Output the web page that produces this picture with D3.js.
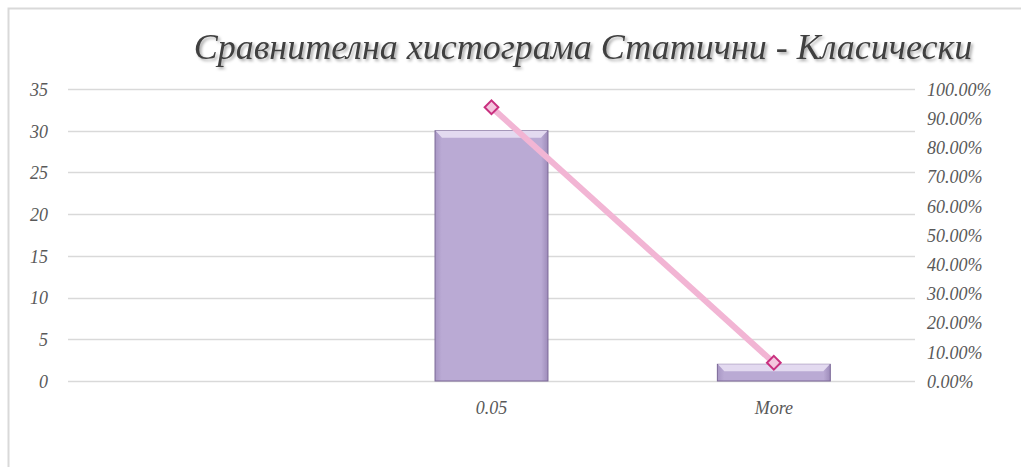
<!DOCTYPE html>
<html>
<head>
<meta charset="utf-8">
<script src="https://cdn.jsdelivr.net/npm/d3@7"></script>
<style>
  body { margin: 0; background: #fff; }
  .tick text { font-family: "Liberation Serif", "DejaVu Serif", serif; font-style: italic; fill: #595959; }
</style>
</head>
<body>
<div id="chart"></div>
<script>
// histogram data
var categories = ["", "0.05", "More"];
var frequency = [0, 30, 2];
var percent = [null, 0.9375, 0.0625];
var leftTicks = [0, 5, 10, 15, 20, 25, 30, 35];
var rightTicks = [0, 0.1, 0.2, 0.3, 0.4, 0.5, 0.6, 0.7, 0.8, 0.9, 1.0];
var title = "Сравнителна хистограма Статични - Класически";

var W = 1021, H = 467;
var margin = { top: 89, right: 106, bottom: 86, left: 68 },
    width = W - margin.left - margin.right,
    height = H - margin.top - margin.bottom;

var root = d3.select("#chart").append("svg")
    .attr("width", W)
    .attr("height", H);

var defs = root.append("defs");
var f = defs.append("filter").attr("id", "shadow").attr("x", "-5%").attr("y", "-30%").attr("width", "110%").attr("height", "160%");
f.append("feDropShadow").attr("dx", 2).attr("dy", 2).attr("stdDeviation", 1.5).attr("flood-color", "#000").attr("flood-opacity", 0.35);

var g1 = defs.append("linearGradient").attr("id", "barFill").attr("x1", 0).attr("x2", 1).attr("y1", 0).attr("y2", 0);
g1.append("stop").attr("offset", "0%").attr("stop-color", "#a897c4");
g1.append("stop").attr("offset", "6%").attr("stop-color", "#baaad4");
g1.append("stop").attr("offset", "94%").attr("stop-color", "#baaad4");
g1.append("stop").attr("offset", "100%").attr("stop-color", "#9e8cba");

// frame
root.append("path")
    .attr("d", "M8.5," + H + "V8.5H" + W)
    .attr("fill", "none")
    .attr("stroke", "#d9d9d9")
    .attr("stroke-width", 2);

root.append("text")
    .attr("x", 583)
    .attr("y", 59)
    .attr("text-anchor", "middle")
    .attr("font-family", "Liberation Serif, DejaVu Serif, serif")
    .attr("font-style", "italic")
    .attr("font-size", 36)
    .attr("fill", "#404040")
    .attr("filter", "url(#shadow)")
    .text(title);

var svg = root.append("g")
    .attr("transform", "translate(" + margin.left + "," + margin.top + ")");

var x = d3.scaleBand()
    .domain(categories)
    .range([0, width])
    .paddingInner(0.6)
    .paddingOuter(0.3);

var y = d3.scaleLinear().domain([0, 35]).range([height, 0]);
var y2 = d3.scaleLinear().domain([0, 1]).range([height, 0]);

// gridlines
svg.append("g")
    .selectAll("line")
    .data(leftTicks)
    .enter()
    .append("line")
    .attr("x1", 0)
    .attr("x2", width)
    .attr("y1", function (d) { return Math.round(y(d)) + 0.5; })
    .attr("y2", function (d) { return Math.round(y(d)) + 0.5; })
    .attr("stroke", "#d9d9d9")
    .attr("stroke-width", 1.5);

var yAxis = svg.append("g")
    .call(d3.axisLeft(y).tickValues(leftTicks).tickSize(0).tickPadding(20));
yAxis.select(".domain").remove();
yAxis.selectAll("text").attr("font-size", 18).attr("dy", "0.35em");

var y2Axis = svg.append("g")
    .attr("transform", "translate(" + width + ",0)")
    .call(d3.axisRight(y2).tickValues(rightTicks).tickSize(0).tickPadding(12).tickFormat(d3.format(".2%")));
y2Axis.select(".domain").remove();
y2Axis.selectAll("text").attr("font-size", 18).attr("dy", "0.35em");

var xAxis = svg.append("g")
    .attr("transform", "translate(0," + height + ")")
    .call(d3.axisBottom(x).tickSize(0).tickPadding(20));
xAxis.select(".domain").remove();
xAxis.selectAll("text").attr("font-size", 18);

// bars
var bars = svg.append("g")
    .selectAll("g")
    .data(frequency.map(function (v, i) { return { c: categories[i], v: v }; }).filter(function (d) { return d.v > 0; }))
    .enter()
    .append("g");

bars.append("rect")
    .attr("x", function (d) { return x(d.c); })
    .attr("y", function (d) { return y(d.v); })
    .attr("width", x.bandwidth())
    .attr("height", function (d) { return height - y(d.v); })
    .attr("fill", "url(#barFill)")
    .attr("stroke", "#7a6796")
    .attr("stroke-width", 1);

// bevel on top
bars.append("path")
    .attr("d", function (d) {
        var x0 = x(d.c), x1 = x0 + x.bandwidth(), t = y(d.v), b = Math.min(7, (height - y(d.v)) / 2);
        return "M" + (x0 + 0.5) + "," + t + "H" + (x1 - 0.5) + "L" + (x1 - b) + "," + (t + b) + "H" + (x0 + b) + "Z";
    })
    .attr("fill", "#e3daf0");

// cumulative line
var pts = percent.map(function (v, i) { return { c: categories[i], v: v }; }).filter(function (d) { return d.v !== null; });

var line = d3.line()
    .x(function (d) { return x(d.c) + x.bandwidth() / 2; })
    .y(function (d) { return y2(d.v); });

svg.append("path")
    .datum(pts)
    .attr("d", line)
    .attr("fill", "none")
    .attr("stroke", "#f2b5d4")
    .attr("stroke-width", 6);

svg.append("g")
    .selectAll("path")
    .data(pts)
    .enter()
    .append("path")
    .attr("transform", function (d) {
        return "translate(" + (x(d.c) + x.bandwidth() / 2) + "," + y2(d.v) + ")";
    })
    .attr("d", d3.symbol().type(d3.symbolDiamond2).size(120))
    .attr("fill", "#f4c6de")
    .attr("stroke", "#c9307f")
    .attr("stroke-width", 2);
</script>
</body>
</html>
